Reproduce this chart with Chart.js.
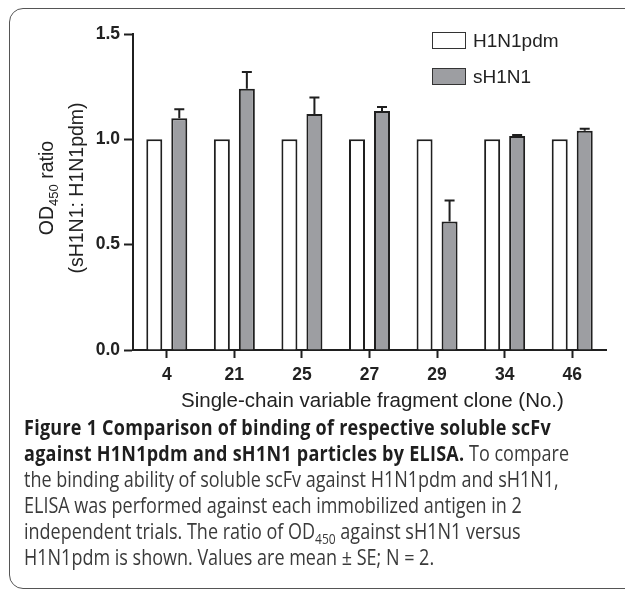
<!DOCTYPE html>
<html lang="en">
<head>
    <meta charset="UTF-8">
    <title>Figure 1</title>
    <style>
        body {
            margin: 0;
            background: #fff;
            width: 625px;
            height: 589px;
            overflow: hidden;
            position: relative;
            font-family: 'Liberation Sans', Arial, sans-serif;
            color: #222;
        }
        .frame {
            position: absolute;
            left: 9px;
            top: 8px;
            width: 700px;
            height: 579px;
            border: 1.5px solid #555;
            border-radius: 14px;
        }
        .chart-box {
            position: absolute;
            left: 0;
            top: 0;
            width: 625px;
            height: 400px;
        }
        .ytitle {
            position: absolute;
            left: 61px;
            top: 188px;
            width: 240px;
            transform: translate(-50%, -50%) rotate(-90deg);
            text-align: center;
            font-size: 19.5px;
            line-height: 30px;
            white-space: nowrap;
        }
        .ytitle .sub {
            font-size: 13px;
            position: relative;
            top: 5px;
            line-height: 0;
        }
        .xtitle {
            position: absolute;
            left: 181px;
            top: 389px;
            font-size: 20.5px;
            line-height: 21px;
            white-space: nowrap;
        }
        .legend-item {
            position: absolute;
            left: 432px;
            height: 18px;
            font-size: 19px;
            line-height: 18px;
            white-space: nowrap;
        }
        .legend-item .swatch {
            position: absolute;
            left: 0;
            top: 0;
            width: 32px;
            height: 15px;
            border: 1.5px solid #333;
        }
        .legend-item .label {
            position: absolute;
            left: 41px;
            top: 0;
        }
        .caption {
            position: absolute;
            left: 24px;
            top: 414px;
            font-family: 'Open Sans', 'Noto Sans', sans-serif;
            font-size: 21px;
            line-height: 26px;
            color: #3a3a3a;
            transform-origin: 0 0;
        }
        .caption div { white-space: nowrap; }
        .caption b { font-weight: 700; color: #1e1e1e; letter-spacing: 0.3px; }
        .caption sub { font-size: 14px; line-height: 0; }
    </style>
    <script src="https://cdn.jsdelivr.net/npm/chart.js"></script>
</head>
<body>
    <div class="frame"></div>

    <div class="chart-box">
        <canvas id="odChart" width="625" height="400"></canvas>
    </div>

    <div class="ytitle">OD<span class="sub">450</span> ratio<br>(sH1N1: H1N1pdm)</div>
    <div class="xtitle">Single-chain variable fragment clone (No.)</div>
    <div id="legend"></div>

    <div class="caption" id="caption">
        <div><b>Figure 1 Comparison of binding of respective soluble scFv</b></div>
        <div><b>against H1N1pdm and sH1N1 particles by ELISA.</b> To compare</div>
        <div>the binding ability of soluble scFv against H1N1pdm and sH1N1,</div>
        <div>ELISA was performed against each immobilized antigen in 2</div>
        <div>independent trials. The ratio of OD<sub>450</sub> against sH1N1 versus</div>
        <div>H1N1pdm is shown. Values are mean ± SE; N = 2.</div>
    </div>

    <script>
        // data
        const clones = ['4', '21', '25', '27', '29', '34', '46'];
        const seriesNames = ['H1N1pdm', 'sH1N1'];
        const h1n1pdm = [1, 1, 1, 1, 1, 1, 1];
        const sh1n1 = [1.10, 1.24, 1.12, 1.135, 0.61, 1.016, 1.041];
        const sh1n1Err = [0.043, 0.08, 0.078, 0.019, 0.10, 0.004, 0.009];
        const yTicks = [0, 0.5, 1.0, 1.5];

        const fills = ['#ffffff', '#9d9ea2'];
        const edge = '#1f1f1f';

        // legend
        const legend = document.getElementById('legend');
        seriesNames.forEach((name, i) => {
            const item = document.createElement('div');
            item.className = 'legend-item';
            item.style.top = (i === 0 ? 32 : 68) + 'px';
            item.innerHTML = '<span class="swatch" style="background:' + fills[i] + '"></span>' +
                '<span class="label">' + name + '</span>';
            legend.appendChild(item);
        });

        // error bars on the sH1N1 series
        const errorBars = {
            id: 'errorBars',
            afterDatasetsDraw(chart) {
                const ctx = chart.ctx;
                const meta = chart.getDatasetMeta(1);
                const yScale = chart.scales.y;
                ctx.save();
                ctx.strokeStyle = edge;
                ctx.lineWidth = 2;
                meta.data.forEach((bar, i) => {
                    const yTop = yScale.getPixelForValue(sh1n1[i] + sh1n1Err[i]);
                    ctx.beginPath();
                    ctx.moveTo(bar.x, bar.y);
                    ctx.lineTo(bar.x, yTop);
                    ctx.moveTo(bar.x - 5, yTop);
                    ctx.lineTo(bar.x + 5, yTop);
                    ctx.stroke();
                });
                ctx.restore();
            }
        };

        const tickFont = { family: "'Liberation Sans', Arial, sans-serif", size: 17.5, weight: 'bold' };

        new Chart(document.getElementById('odChart'), {
            type: 'bar',
            data: {
                labels: clones,
                datasets: [
                    { label: seriesNames[0], data: h1n1pdm, backgroundColor: fills[0] },
                    { label: seriesNames[1], data: sh1n1, backgroundColor: fills[1] }
                ]
            },
            options: {
                responsive: false,
                animation: false,
                devicePixelRatio: 1,
                layout: { padding: { left: 0, right: 19, top: 34, bottom: 0 } },
                datasets: {
                    bar: {
                        categoryPercentage: 0.74,
                        barPercentage: 0.64,
                        borderColor: edge,
                        borderWidth: 2
                    }
                },
                plugins: {
                    legend: { display: false },
                    tooltip: { enabled: false }
                },
                scales: {
                    x: {
                        afterFit: s => { s.height = 50; },
                        grid: {
                            offset: false,
                            drawOnChartArea: false,
                            tickLength: 8,
                            tickWidth: 2,
                            color: edge
                        },
                        border: { color: edge, width: 2 },
                        ticks: { font: tickFont, color: '#222', padding: 7, maxRotation: 0 }
                    },
                    y: {
                        min: 0,
                        max: 1.5,
                        afterFit: s => { s.width = 133; },
                        afterBuildTicks: s => { s.ticks = yTicks.map(v => ({ value: v })); },
                        grid: {
                            drawOnChartArea: false,
                            tickLength: 9,
                            tickWidth: 2,
                            color: edge
                        },
                        border: { color: edge, width: 2 },
                        ticks: {
                            font: tickFont,
                            color: '#222',
                            padding: 4,
                            callback: v => Number(v).toFixed(1)
                        }
                    }
                }
            },
            plugins: [errorBars]
        });

        // squeeze the caption to the narrow face used in the original
        const cap = document.getElementById('caption');
        const ref = cap.children[2];
        const k = 545 / ref.scrollWidth;
        cap.style.transform = 'scaleX(' + k.toFixed(3) + ')';
    </script>
</body>
</html>
